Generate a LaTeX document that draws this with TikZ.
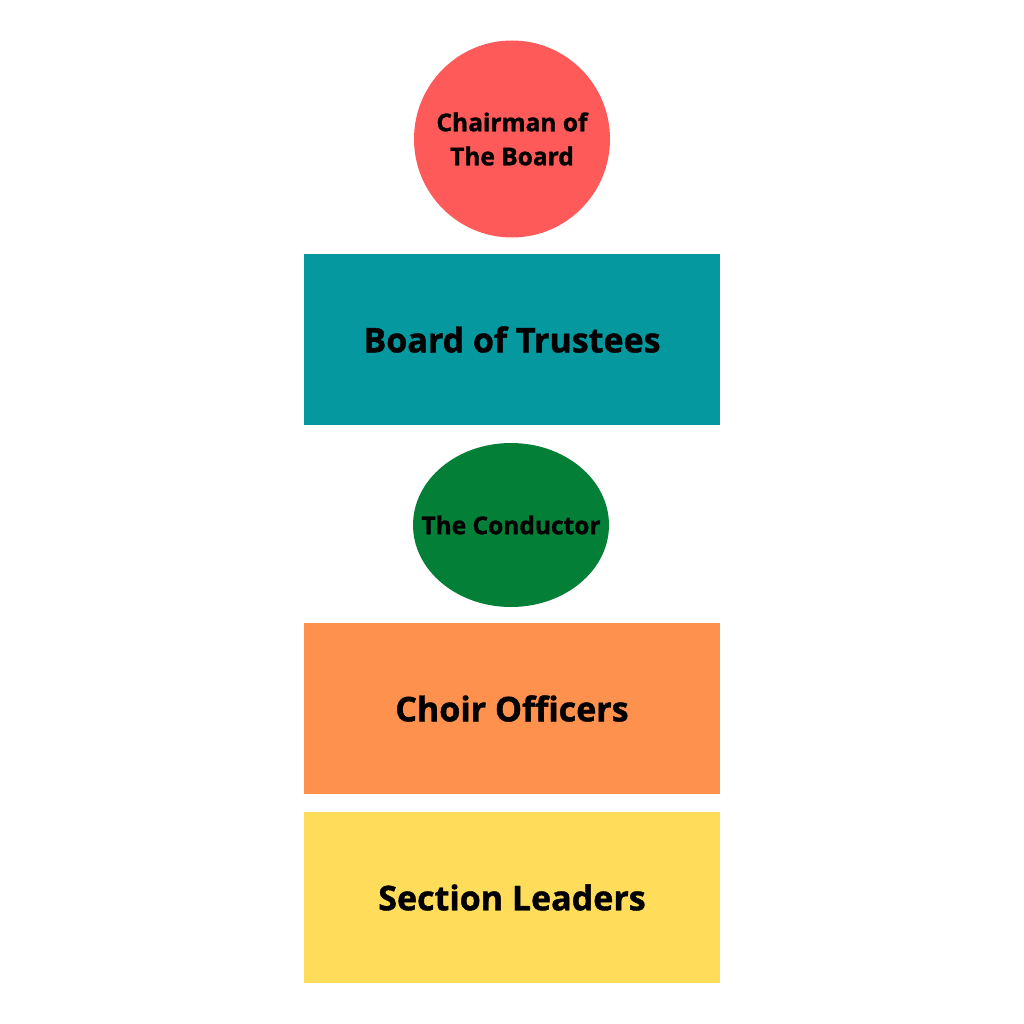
\documentclass[tikz,border=0pt]{standalone}
\usepackage{fontspec}
\setmainfont{Open Sans}[BoldFeatures={FakeBold=1.2}]
\usetikzlibrary{shapes.geometric}
\definecolor{cred}{HTML}{FF5A5A}
\definecolor{cteal}{HTML}{05989E}
\definecolor{cgreen}{HTML}{037F37}
\definecolor{corange}{HTML}{FE914D}
\definecolor{cyellow}{HTML}{FFDD5B}
\tikzset{
  box/.style={rectangle, minimum width=416pt, minimum height=171pt, inner sep=0pt, font=\fontsize{34}{40}\selectfont\bfseries},
  oval/.style={ellipse, inner sep=0pt},
  ovaltext/.style={align=center, inner sep=0pt, font=\fontsize{24.5}{34}\selectfont\bfseries},
}
\begin{document}
\begin{tikzpicture}[x=1pt,y=-1pt]
\useasboundingbox[fill=white] (0,0) rectangle (1024,1024);
\node[oval, fill=cred, minimum width=196pt, minimum height=197pt,
  label={[ovaltext]center:Chairman of\\The Board}] (chair) at (512,139) {};
\node[box, fill=cteal] (board) at (512,339.5) {Board of Trustees};
\node[oval, fill=cgreen, minimum width=196pt, minimum height=164pt,
  label={[ovaltext]center:The Conductor}] (cond) at (511,525) {};
\node[box, fill=corange] (officers) at (512,708.5) {Choir Officers};
\node[box, fill=cyellow] (leaders) at (512,897.5) {Section Leaders};
\end{tikzpicture}
\end{document}
